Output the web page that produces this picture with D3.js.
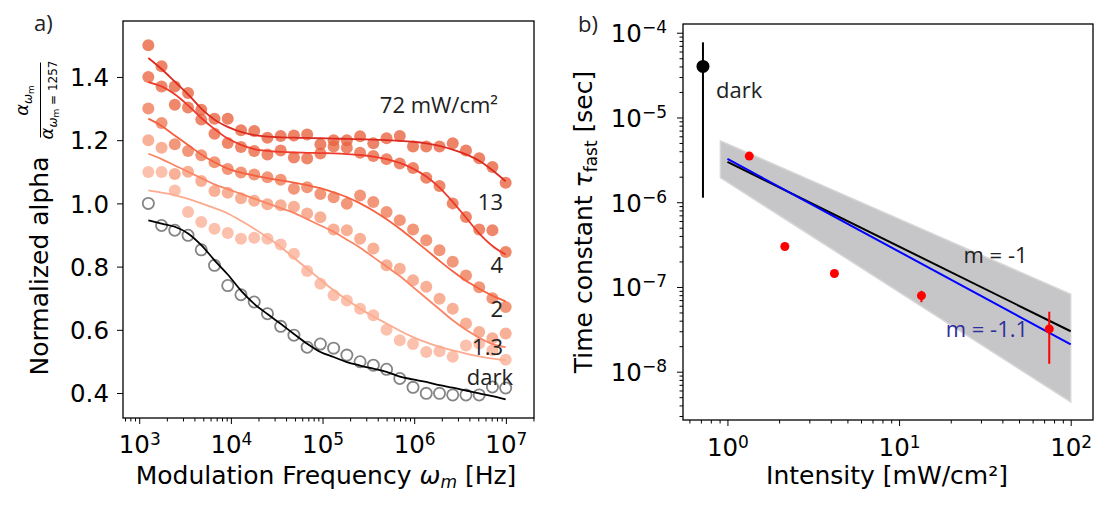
<!DOCTYPE html>
<html lang="en">
<head>
<meta charset="UTF-8">
<title>Normalized alpha and time constant</title>
<script src="https://cdn.jsdelivr.net/npm/d3@7"></script>
<style>
  body { margin: 0; background: #fff; }
  svg { display: block; }
  .ann { font-family: "Open Sans", sans-serif; font-size: 22px; fill: #222; }
</style>
</head>
<body>
<svg id="fig" width="1114" height="513"></svg>
<script>
// ---- panel a) : normalized alpha vs modulation frequency ----
const freqHz = [1257, 1753, 2444, 3408, 4752, 6627, 9241, 12886, 17968, 25055, 34937, 48716,
  67930, 94722, 132081, 184175, 256816, 358106, 499346, 696287, 970904, 1353826, 1887777,
  2632317, 3670526, 5118240, 7136928, 9951837];

const alpha72 = [1.50, 1.434, 1.37, 1.349, 1.296, 1.268, 1.268, 1.231, 1.229, 1.208, 1.213, 1.215,
  1.218, 1.187, 1.20, 1.20, 1.212, 1.19, 1.206, 1.213, 1.18, 1.18, 1.18, 1.19, 1.167, 1.143, 1.115, 1.065];
const alpha13 = [1.40, 1.37, 1.312, 1.303, 1.265, 1.22, 1.191, 1.178, 1.166, 1.155, 1.167, 1.145,
  1.142, 1.158, 1.18, 1.176, 1.16, 1.15, 1.14, 1.126, 1.112, 1.081, 1.055, 1.0, 0.957, 0.917, 0.915, 0.846];
const alpha4 = [1.30, 1.254, 1.187, 1.166, 1.152, 1.13, 1.109, 1.098, 1.091, 1.083, 1.075, 1.046,
  1.051, 1.03, 1.019, 0.999, 1.025, 1.004, 0.973, 0.947, 0.917, 0.883, 0.852, 0.815, 0.772, 0.735, 0.70, 0.672];
const alpha2 = [1.20, 1.176, 1.093, 1.10, 1.071, 1.039, 1.034, 1.016, 1.008, 0.997, 0.994, 0.989,
  0.968, 0.956, 0.917, 0.915, 0.888, 0.857, 0.804, 0.793, 0.757, 0.736, 0.698, 0.667, 0.62, 0.593, 0.573, 0.588];
const alpha1p3 = [1.099, 1.099, 1.041, 0.973, 0.941, 0.92, 0.906, 0.888, 0.891, 0.888, 0.87, 0.841,
  0.786, 0.746, 0.709, 0.693, 0.667, 0.646, 0.60, 0.567, 0.555, 0.53, 0.532, 0.515, 0.55, 0.557, 0.535, 0.505];
const alphaDark = [1.0, 0.93, 0.915, 0.899, 0.853, 0.804, 0.74, 0.711, 0.688, 0.651, 0.611, 0.583,
  0.545, 0.555, 0.542, 0.52, 0.499, 0.488, 0.475, 0.446, 0.418, 0.399, 0.399, 0.394, 0.394, 0.394, 0.419, 0.416];

// fitted curves, same frequencies
const fit72 = [1.46, 1.425, 1.385, 1.345, 1.30, 1.265, 1.242, 1.226, 1.216, 1.211, 1.209, 1.208,
  1.207, 1.206, 1.205, 1.204, 1.203, 1.202, 1.20, 1.198, 1.195, 1.19, 1.182, 1.17, 1.155, 1.135, 1.105, 1.07];
const fit13 = [1.384, 1.37, 1.345, 1.31, 1.27, 1.235, 1.205, 1.185, 1.172, 1.166, 1.163, 1.161,
  1.16, 1.159, 1.158, 1.156, 1.153, 1.148, 1.14, 1.128, 1.11, 1.085, 1.05, 1.005, 0.955, 0.905, 0.865, 0.838];
const fit4 = [1.268, 1.245, 1.215, 1.185, 1.155, 1.13, 1.11, 1.097, 1.088, 1.08, 1.073, 1.066,
  1.058, 1.048, 1.035, 1.02, 1.0, 0.977, 0.95, 0.92, 0.887, 0.853, 0.818, 0.785, 0.755, 0.73, 0.708, 0.69];
const fit2 = [1.157, 1.14, 1.12, 1.10, 1.08, 1.06, 1.045, 1.03, 1.015, 1.0, 0.985, 0.97,
  0.95, 0.93, 0.91, 0.885, 0.86, 0.83, 0.80, 0.77, 0.735, 0.70, 0.665, 0.63, 0.60, 0.575, 0.555, 0.545];
const fit1p3 = [1.041, 1.034, 1.026, 1.014, 1.0, 0.985, 0.968, 0.945, 0.92, 0.892, 0.862, 0.828,
  0.793, 0.759, 0.725, 0.695, 0.667, 0.642, 0.62, 0.597, 0.577, 0.56, 0.546, 0.535, 0.525, 0.516, 0.509, 0.504];
const fitDark = [0.946, 0.936, 0.926, 0.905, 0.868, 0.82, 0.775, 0.724, 0.682, 0.65, 0.619, 0.587,
  0.556, 0.53, 0.514, 0.498, 0.487, 0.477, 0.467, 0.452, 0.443, 0.435, 0.425, 0.417, 0.408, 0.399, 0.39, 0.38];

const seriesNames = ["1.3", "2", "4", "13", "72"];
const dotColor = { "1.3": "#fbb096", "2": "#f69a78", "4": "#f07a55", "13": "#ea6640", "72": "#e8603c" };
const lineColor = { "1.3": "#fcab8f", "2": "#fa8566", "4": "#f5613f", "13": "#ee3a2a", "72": "#dd2a1f" };

// ---- panel b) : tau_fast vs intensity ----
const intensity = [1.34, 2.16, 4.2, 13.5, 75];
const tauFast = [3.5e-6, 3.0e-7, 1.44e-7, 7.9e-8, 3.2e-8];
const tauLow = [3.5e-6, 3.0e-7, 1.36e-7, 6.6e-8, 1.24e-8];
const tauHigh = [3.5e-6, 3.0e-7, 1.52e-7, 9.0e-8, 5.1e-8];
const darkIntensity = 0.72, darkTau = 4.0e-5, darkLow = 1.13e-6, darkHigh = 7.7e-5;

const fitIntensity = [1, 100];
const fitSlope1 = [3.0e-6, 3.0e-8];
const fitSlope11 = [3.25e-6, 2.1e-8];
const bandIntensity = [0.91, 100];
const bandUpper = [5.3e-6, 8.2e-8];
const bandLower = [1.95e-6, 4.4e-9];

const svg = d3.select("#fig");
const tickFont = "'DejaVu Sans', sans-serif";
const tickSize = 24.5, labelSize = 25, supSize = 17;

// scales
const xL = d3.scaleLog().domain([10 ** 2.823, 10 ** 7.307]).range([123, 534]);
const yL = d3.scaleLinear().domain([0.321, 1.577]).range([418, 21]);
const xR = d3.scaleLog().domain([10 ** -0.259, 10 ** 2.13]).range([683, 1093]);
const yR = d3.scaleLog().domain([10 ** -8.57, 10 ** -3.897]).range([420, 24]);

function minorLog(scale) {
  const [a, b] = scale.domain();
  const out = [];
  for (let k = Math.floor(Math.log10(a)); k <= Math.ceil(Math.log10(b)); k++) {
    for (let m = 2; m <= 9; m++) {
      const v = m * 10 ** k;
      if (v >= a && v <= b) out.push(v);
    }
  }
  return out;
}

function pow10(sel, raise) {
  sel.each(function (d) {
    const e = Math.round(Math.log10(d));
    const t = d3.select(this).text("10");
    t.append("tspan").attr("dy", -raise).attr("font-size", supSize)
      .text(e < 0 ? "\u2212" + (-e) : e);
  });
}

function styleAxis(g) {
  g.select(".domain").remove();
  g.attr("font-family", tickFont).attr("font-size", tickSize);
  g.selectAll(".tick line").attr("stroke", "#000").attr("stroke-width", 1);
  g.selectAll(".tick text").attr("fill", "#000");
}

// ===== panel a =====
const pa = svg.append("g");

// points
const alphaByName = { "1.3": alpha1p3, "2": alpha2, "4": alpha4, "13": alpha13, "72": alpha72 };
seriesNames.forEach(name => {
  pa.append("g").selectAll("circle").data(alphaByName[name]).join("circle")
    .attr("cx", (d, i) => xL(freqHz[i]))
    .attr("cy", d => yL(d))
    .attr("r", 6)
    .attr("fill", dotColor[name])
    .attr("fill-opacity", 0.78);
});
pa.append("g").selectAll("circle").data(alphaDark).join("circle")
  .attr("cx", (d, i) => xL(freqHz[i]))
  .attr("cy", d => yL(d))
  .attr("r", 5.6)
  .attr("fill", "none")
  .attr("stroke", "#858585")
  .attr("stroke-width", 1.8);

// fit lines
const lineL = d3.line().x((d, i) => xL(freqHz[i])).y(d => yL(d)).curve(d3.curveMonotoneX);
const fits = { "1.3": fit1p3, "2": fit2, "4": fit4, "13": fit13, "72": fit72 };
seriesNames.forEach(name => {
  pa.append("path").attr("d", lineL(fits[name]))
    .attr("fill", "none").attr("stroke", lineColor[name]).attr("stroke-width", 1.8);
});
pa.append("path").attr("d", lineL(fitDark))
  .attr("fill", "none").attr("stroke", "#000").attr("stroke-width", 1.8);

// axes a
pa.append("g").attr("transform", "translate(0,418)")
  .call(d3.axisBottom(xL).tickValues(minorLog(xL)).tickSize(3.5).tickFormat(""))
  .call(styleAxis);
pa.append("g").attr("transform", "translate(0,418)")
  .call(d3.axisBottom(xL).tickValues([1e3, 1e4, 1e5, 1e6, 1e7]).tickSize(6).tickSizeOuter(0).tickFormat(""))
  .call(styleAxis)
  .call(g => g.selectAll(".tick text").attr("y", 35).attr("dy", null).call(pow10, 8));
pa.append("g").attr("transform", "translate(123,0)")
  .call(d3.axisLeft(yL).tickValues([0.4, 0.6, 0.8, 1.0, 1.2, 1.4]).tickSize(6).tickFormat(d3.format(".1f")))
  .call(styleAxis)
  .call(g => g.selectAll(".tick text").attr("x", -14).attr("dy", "0.36em"));
pa.append("rect").attr("x", 123).attr("y", 21).attr("width", 411).attr("height", 397)
  .attr("fill", "none").attr("stroke", "#000").attr("stroke-width", 1.3);

// x label a
const xlabA = pa.append("text").attr("x", 326).attr("y", 483.5).attr("text-anchor", "middle")
  .attr("font-family", tickFont).attr("font-size", labelSize);
xlabA.append("tspan").text("Modulation Frequency ");
xlabA.append("tspan").attr("font-style", "italic").text("\u03c9");
xlabA.append("tspan").attr("font-style", "italic").attr("font-size", supSize).attr("dy", 4).text("m");
xlabA.append("tspan").attr("dy", -4).text(" [Hz]");

// y label a (with fraction)
const ylabA = pa.append("g").attr("transform", "translate(40,219.5) rotate(-90)")
  .attr("font-family", tickFont);
ylabA.append("text").attr("x", -156).attr("y", 8).attr("font-size", labelSize).text("Normalized alpha");
ylabA.append("line").attr("x1", 82).attr("x2", 157).attr("y1", 0.5).attr("y2", 0.5)
  .attr("stroke", "#000").attr("stroke-width", 1);
const num = ylabA.append("text").attr("x", 119).attr("y", -12).attr("text-anchor", "middle");
num.append("tspan").attr("font-size", 18).attr("font-style", "italic").text("\u03b1");
num.append("tspan").attr("font-size", 12).attr("font-style", "italic").attr("dy", 3.5).text("\u03c9");
num.append("tspan").attr("font-size", 9).attr("dy", 2.5).text("m");
const den = ylabA.append("text").attr("x", 119.5).attr("y", 13).attr("text-anchor", "middle");
den.append("tspan").attr("font-size", 18).attr("font-style", "italic").text("\u03b1");
den.append("tspan").attr("font-size", 12).attr("font-style", "italic").attr("dy", 3.5).text("\u03c9");
den.append("tspan").attr("font-size", 9).attr("dy", 2.5).text("m");
den.append("tspan").attr("font-size", 12).attr("dy", -2.5).text(" = 1257");

// annotations a
pa.append("text").attr("class", "ann").attr("x", 34).attr("y", 31).attr("font-size", 18).text("a)");
const annA = [
  { t: "72 mW/cm\u00b2", x: 498, y: 113 },
  { t: "13", x: 503, y: 210 },
  { t: "4", x: 503, y: 273 },
  { t: "2", x: 503, y: 317 },
  { t: "1.3", x: 503, y: 355 },
  { t: "dark", x: 513, y: 385 }
];
pa.selectAll("text.lab").data(annA).join("text").attr("class", "ann lab")
  .attr("x", d => d.x).attr("y", d => d.y).attr("text-anchor", "end").text(d => d.t);

// ===== panel b =====
const pb = svg.append("g");

const bandPts = bandIntensity.map((v, i) => [xR(v), yR(bandUpper[i])])
  .concat(bandIntensity.map((v, i) => [xR(v), yR(bandLower[i])]).reverse());
pb.append("path").attr("d", "M" + bandPts.join("L") + "Z")
  .attr("fill", "#c6c6c8").attr("stroke", "#d6d6d6").attr("stroke-width", 1.5);

const lineR = d3.line().x((d, i) => xR(fitIntensity[i])).y(d => yR(d));
pb.append("path").attr("d", lineR(fitSlope1)).attr("fill", "none").attr("stroke", "#000").attr("stroke-width", 2);
pb.append("path").attr("d", lineR(fitSlope11)).attr("fill", "none").attr("stroke", "#0000ff").attr("stroke-width", 2);

// dark point
pb.append("line").attr("x1", xR(darkIntensity)).attr("x2", xR(darkIntensity))
  .attr("y1", yR(darkLow)).attr("y2", yR(darkHigh)).attr("stroke", "#000").attr("stroke-width", 2);
pb.append("circle").attr("cx", xR(darkIntensity)).attr("cy", yR(darkTau)).attr("r", 6.5).attr("fill", "#000");

// red points with error bars
pb.append("g").selectAll("line").data(intensity).join("line")
  .attr("x1", d => xR(d)).attr("x2", d => xR(d))
  .attr("y1", (d, i) => yR(tauLow[i])).attr("y2", (d, i) => yR(tauHigh[i]))
  .attr("stroke", "#ff0000").attr("stroke-width", 2);
pb.append("g").selectAll("circle").data(intensity).join("circle")
  .attr("cx", d => xR(d)).attr("cy", (d, i) => yR(tauFast[i]))
  .attr("r", 4.5).attr("fill", "#ff0000");

// axes b
pb.append("g").attr("transform", "translate(0,420)")
  .call(d3.axisBottom(xR).tickValues(minorLog(xR)).tickSize(3.5).tickFormat(""))
  .call(styleAxis);
pb.append("g").attr("transform", "translate(0,420)")
  .call(d3.axisBottom(xR).tickValues([1, 10, 100]).tickSize(6).tickSizeOuter(0).tickFormat(""))
  .call(styleAxis)
  .call(g => g.selectAll(".tick text").attr("y", 35.5).attr("dy", null).call(pow10, 8));
pb.append("g").attr("transform", "translate(683,0)")
  .call(d3.axisLeft(yR).tickValues(minorLog(yR)).tickSize(3.5).tickFormat(""))
  .call(styleAxis);
pb.append("g").attr("transform", "translate(683,0)")
  .call(d3.axisLeft(yR).tickValues([1e-8, 1e-7, 1e-6, 1e-5, 1e-4]).tickSize(6).tickSizeOuter(0).tickFormat(""))
  .call(styleAxis)
  .call(g => g.selectAll(".tick text").attr("x", -16).attr("dy", "0.36em").call(pow10, 9));
pb.append("rect").attr("x", 683).attr("y", 24).attr("width", 410).attr("height", 396)
  .attr("fill", "none").attr("stroke", "#000").attr("stroke-width", 1.3);

// labels b
pb.append("text").attr("x", 887).attr("y", 483.5).attr("text-anchor", "middle")
  .attr("font-family", tickFont).attr("font-size", labelSize).text("Intensity [mW/cm\u00b2]");
const ylabB = pb.append("text").attr("transform", "translate(592,222) rotate(-90)")
  .attr("text-anchor", "middle").attr("font-family", tickFont).attr("font-size", labelSize);
ylabB.append("tspan").text("Time constant ");
ylabB.append("tspan").attr("font-style", "italic").text("\u03c4");
ylabB.append("tspan").attr("font-size", supSize).attr("dy", 5).text("fast");
ylabB.append("tspan").attr("dy", -5).text(" [sec]");

pb.append("text").attr("class", "ann").attr("x", 578).attr("y", 32).attr("font-size", 18).text("b)");
pb.append("text").attr("class", "ann").attr("x", 716).attr("y", 98).text("dark");
pb.append("text").attr("class", "ann").attr("x", 963.5).attr("y", 262.5).text("m = -1");
pb.append("text").attr("class", "ann").attr("x", 945.7).attr("y", 337.3)
  .style("fill", "#2e2e9e").text("m = -1.1");
</script>
</body>
</html>
